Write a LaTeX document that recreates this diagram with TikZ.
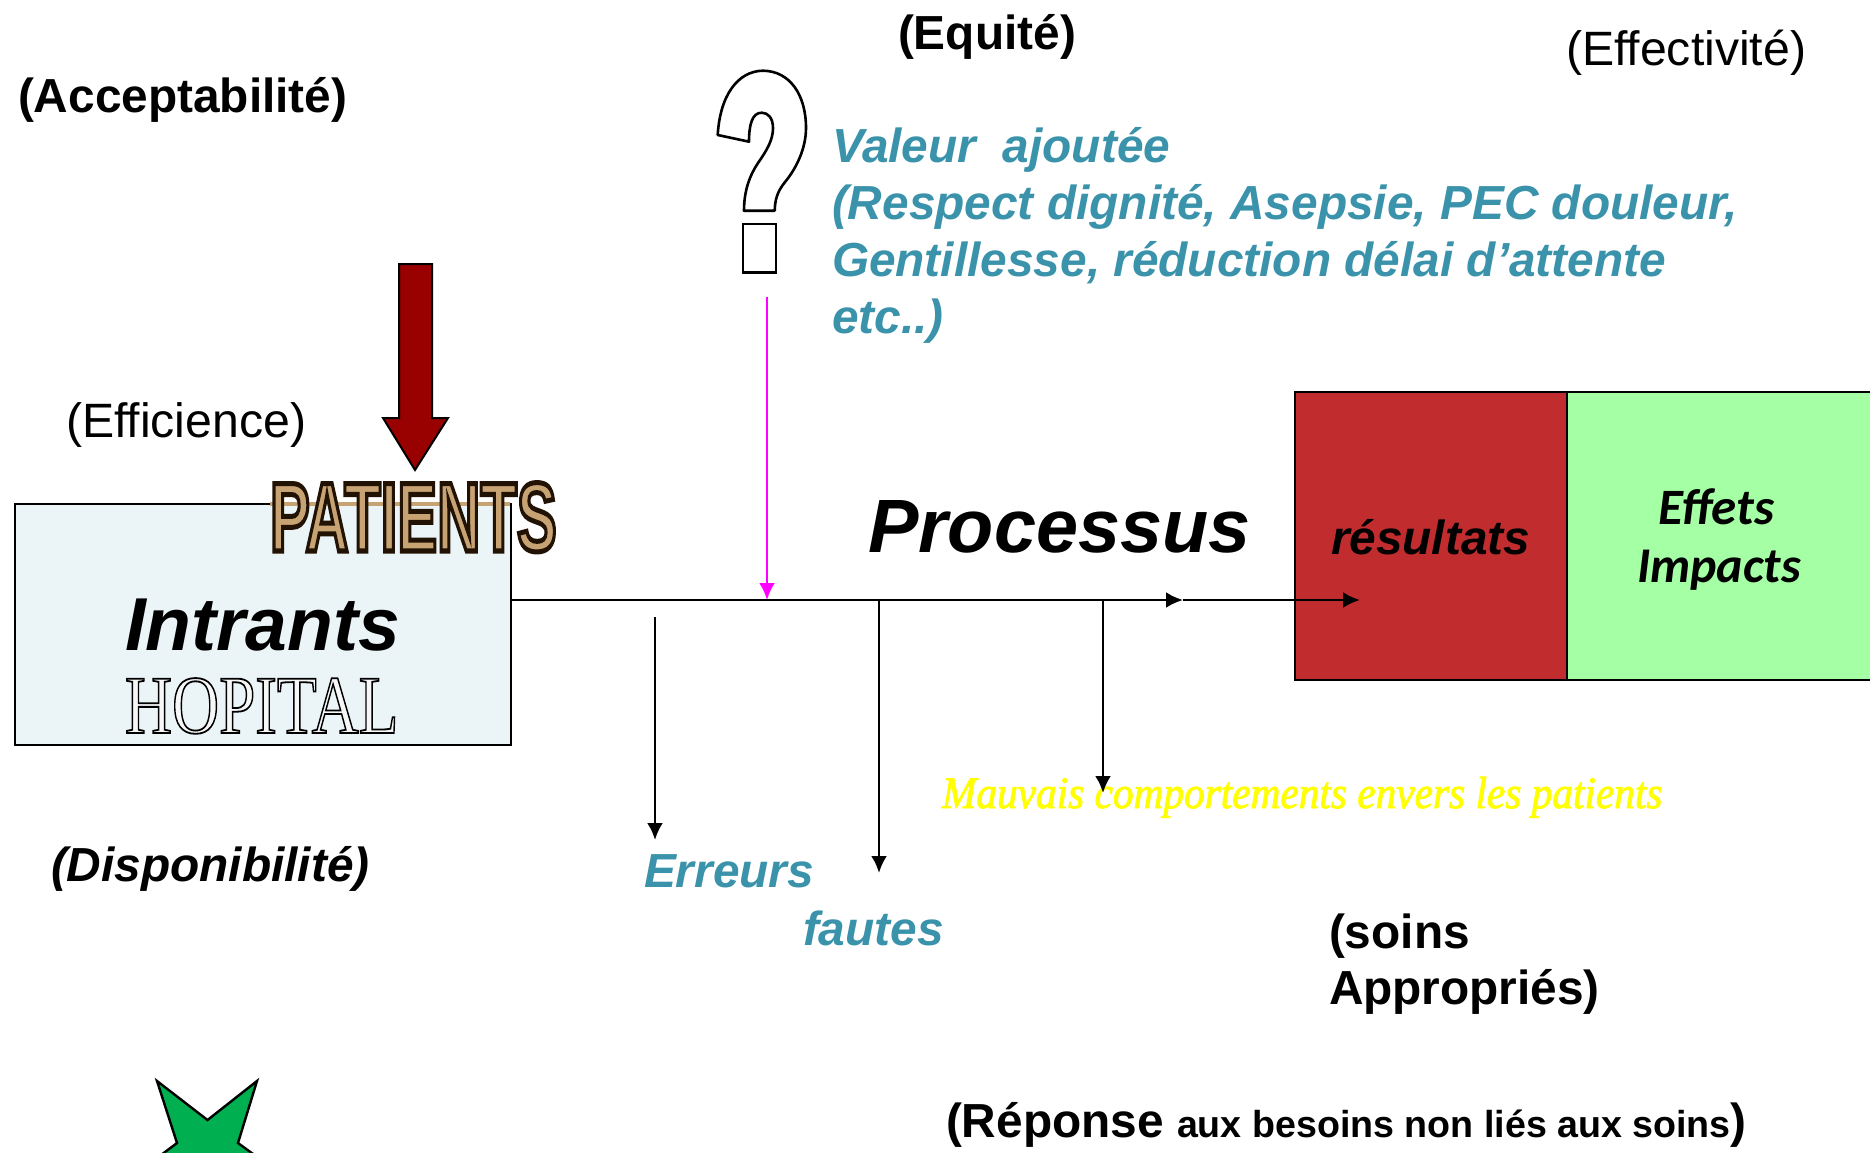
\documentclass[tikz,border=0pt]{standalone}
\usepackage{fontspec}
\usetikzlibrary{arrows.meta}
\setmainfont{Liberation Sans}
\newfontfamily\serifface{Liberation Serif}
\newfontfamily\gillface{Carlito}
\definecolor{tealtext}{HTML}{3A93AB}
\definecolor{paleblue}{HTML}{EBF5F8}
\definecolor{resred}{HTML}{C12D2E}
\definecolor{effgreen}{HTML}{A5FFA5}
\definecolor{darkred}{HTML}{990000}
\definecolor{stargreen}{HTML}{00B050}
\definecolor{puremagenta}{HTML}{FF00FF}
\definecolor{tanword}{HTML}{C7A373}
\newcommand{\outlinetext}[3]{\special{pdf:code #1 #2 2 Tr #3 w}}
\newcommand{\outlineend}{\special{pdf:code 0 Tr 1 w 0 g 0 G}}
\tikzset{
  lbl/.style={anchor=base west,inner sep=0pt,outer sep=0pt},
  big/.style={lbl,font=\fontsize{48.2}{57}\selectfont},
  bigbf/.style={big,font=\fontsize{47.8}{57}\selectfont\bfseries},
  bigbi/.style={big,font=\fontsize{47.8}{57}\selectfont\bfseries\itshape},
  tealt/.style={bigbi,text=tealtext},
  panel/.style={draw=black,line width=2.8pt,inner sep=0pt,outer sep=0pt,anchor=north west},
  conn/.style={draw=black,line width=2.8pt},
  tipped/.style={conn,-{Latex[length=17pt,width=16pt]}}
}
\begin{document}
\begin{tikzpicture}[x=1pt,y=-1pt]
\clip (0,0) rectangle (1870,1153);
\fill[white] (0,0) rectangle (1870,1153);

% panels
\node[panel,fill=paleblue,minimum width=496pt,minimum height=241pt] (intr) at (15,504) {};
\node[panel,fill=effgreen,minimum width=320pt,minimum height=288pt] (eff) at (1567,392) {};
\node[panel,fill=resred,minimum width=272pt,minimum height=288pt] (res) at (1295,392) {};
\fill[tanword] (270,502) rectangle (510,506);

% free ends
\coordinate (startL) at (511,600);
\coordinate (midL) at (1183,600);
\coordinate (endL) at (1360,600);
\coordinate (magA) at (767,297);
\coordinate (magB) at (767,600);
\coordinate (d1a) at (655,617);
\coordinate (d1b) at (655,840);
\coordinate (d2a) at (879,600);
\coordinate (d2b) at (879,873);
\coordinate (d3a) at (1103,600);
\coordinate (d3b) at (1103,793);

% labels
\node[bigbf] (accept) at (18,113) {(Acceptabilité)};
\node[bigbf] (equite) at (898,50) {(Equité)};
\node[big] (effect) at (1566,66) {(Effectivité)};
\node[big] (effic) at (66,437) {(Efficience)};
\node[tealt,anchor=north west,align=left] (valeur) at (832,127) {Valeur\ \ ajoutée\\(Respect dignité, Asepsie, PEC douleur,\\Gentillesse, réduction délai d’attente\\etc..)};
\node[lbl,font=\fontsize{75.6}{80}\selectfont\bfseries\itshape] (proc) at (868,552) {Processus};
\node[lbl,font=\fontsize{75}{80}\selectfont\bfseries\itshape] (intrt) at (125,650) {Intrants};
\node[lbl,font=\fontsize{83}{90}\serifface\selectfont,xscale=.785] (hop) at (125,733) {\outlinetext{.97 g}{0 G}{1.8}HOPITAL\outlineend};
\node[lbl,font=\fontsize{98}{98}\bfseries\selectfont,xscale=.61] (pat) at (270,551) {\outlinetext{.78 .64 .45 rg}{.13 .07 .01 RG}{5}PATIENTS\outlineend};
\node[bigbi] (resl) at (1331,554) {résultats};
\node[lbl,font=\fontsize{51}{58}\gillface\bfseries\itshape\selectfont] (effets) at (1658,524) {Effets};
\node[lbl,font=\fontsize{50}{58}\gillface\bfseries\itshape\selectfont] (impacts) at (1637,582) {Impacts};
\node[lbl,font=\fontsize{45}{50}\serifface\itshape\selectfont,xscale=.918] (mauv) at (942,808) {\outlinetext{1 1 0 rg}{1 1 0 RG}{.9}Mauvais comportements envers les patients\outlineend};
\node[tealt] (err) at (644,887) {Erreurs};
\node[tealt] (fau) at (803,945) {fautes};
\node[bigbi] (dispo) at (51,881) {(Disponibilité)};
\node[bigbf] (soins) at (1329,948) {(soins};
\node[bigbf] (appr) at (1329,1004) {Appropriés)};
\node[bigbf] (repo) at (946,1137) {(Réponse {\fontsize{37.6}{40}\selectfont aux besoins non liés aux soins})};

% connectors
\path[tipped] (startL) -- (midL);
\path[tipped] (midL) -- (endL);
\path[conn,draw=puremagenta,fill=puremagenta,-{Latex[length=17pt,width=16pt]}] (magA) -- (magB);
\path[tipped] (d1a) -- (d1b);
\path[tipped] (d2a) -- (d2b);
\path[tipped] (d3a) -- (d3b);

% big dark arrow
\draw[fill=darkred,draw=black,line width=2pt,line join=miter]
  (399,264) -- (432,264) -- (432,418) -- (448,418) -- (415,470) -- (383,418) -- (399,418) -- cycle;

% question mark
\draw[fill=white,draw=black,line width=2.6pt,line join=round]
  (717.7,135) .. controls (720,95) and (738,71) .. (763,70.7)
  .. controls (790,71) and (806,95) .. (806,128)
  .. controls (806,150) and (795,170) .. (785,182)
  .. controls (777,192) and (775,200) .. (774.7,210.7)
  -- (744,210.7)
  .. controls (744,190) and (750,175) .. (758,163)
  .. controls (767,150) and (773,140) .. (773,128)
  .. controls (773,118) and (768,112.7) .. (761.7,112.7)
  .. controls (752,112.7) and (749,125) .. (749,141.7) -- cycle;
\draw[fill=white,draw=black,line width=2.6pt] (743,224) rectangle (776,272.7);

% star
\draw[fill=stargreen,draw=black,line width=2.4pt,line join=miter]
  (157,1081) -- (207.5,1120) -- (257,1081) -- (238,1143) -- (271,1167) -- (145,1167) -- (177,1143) -- cycle;
\end{tikzpicture}
\end{document}
